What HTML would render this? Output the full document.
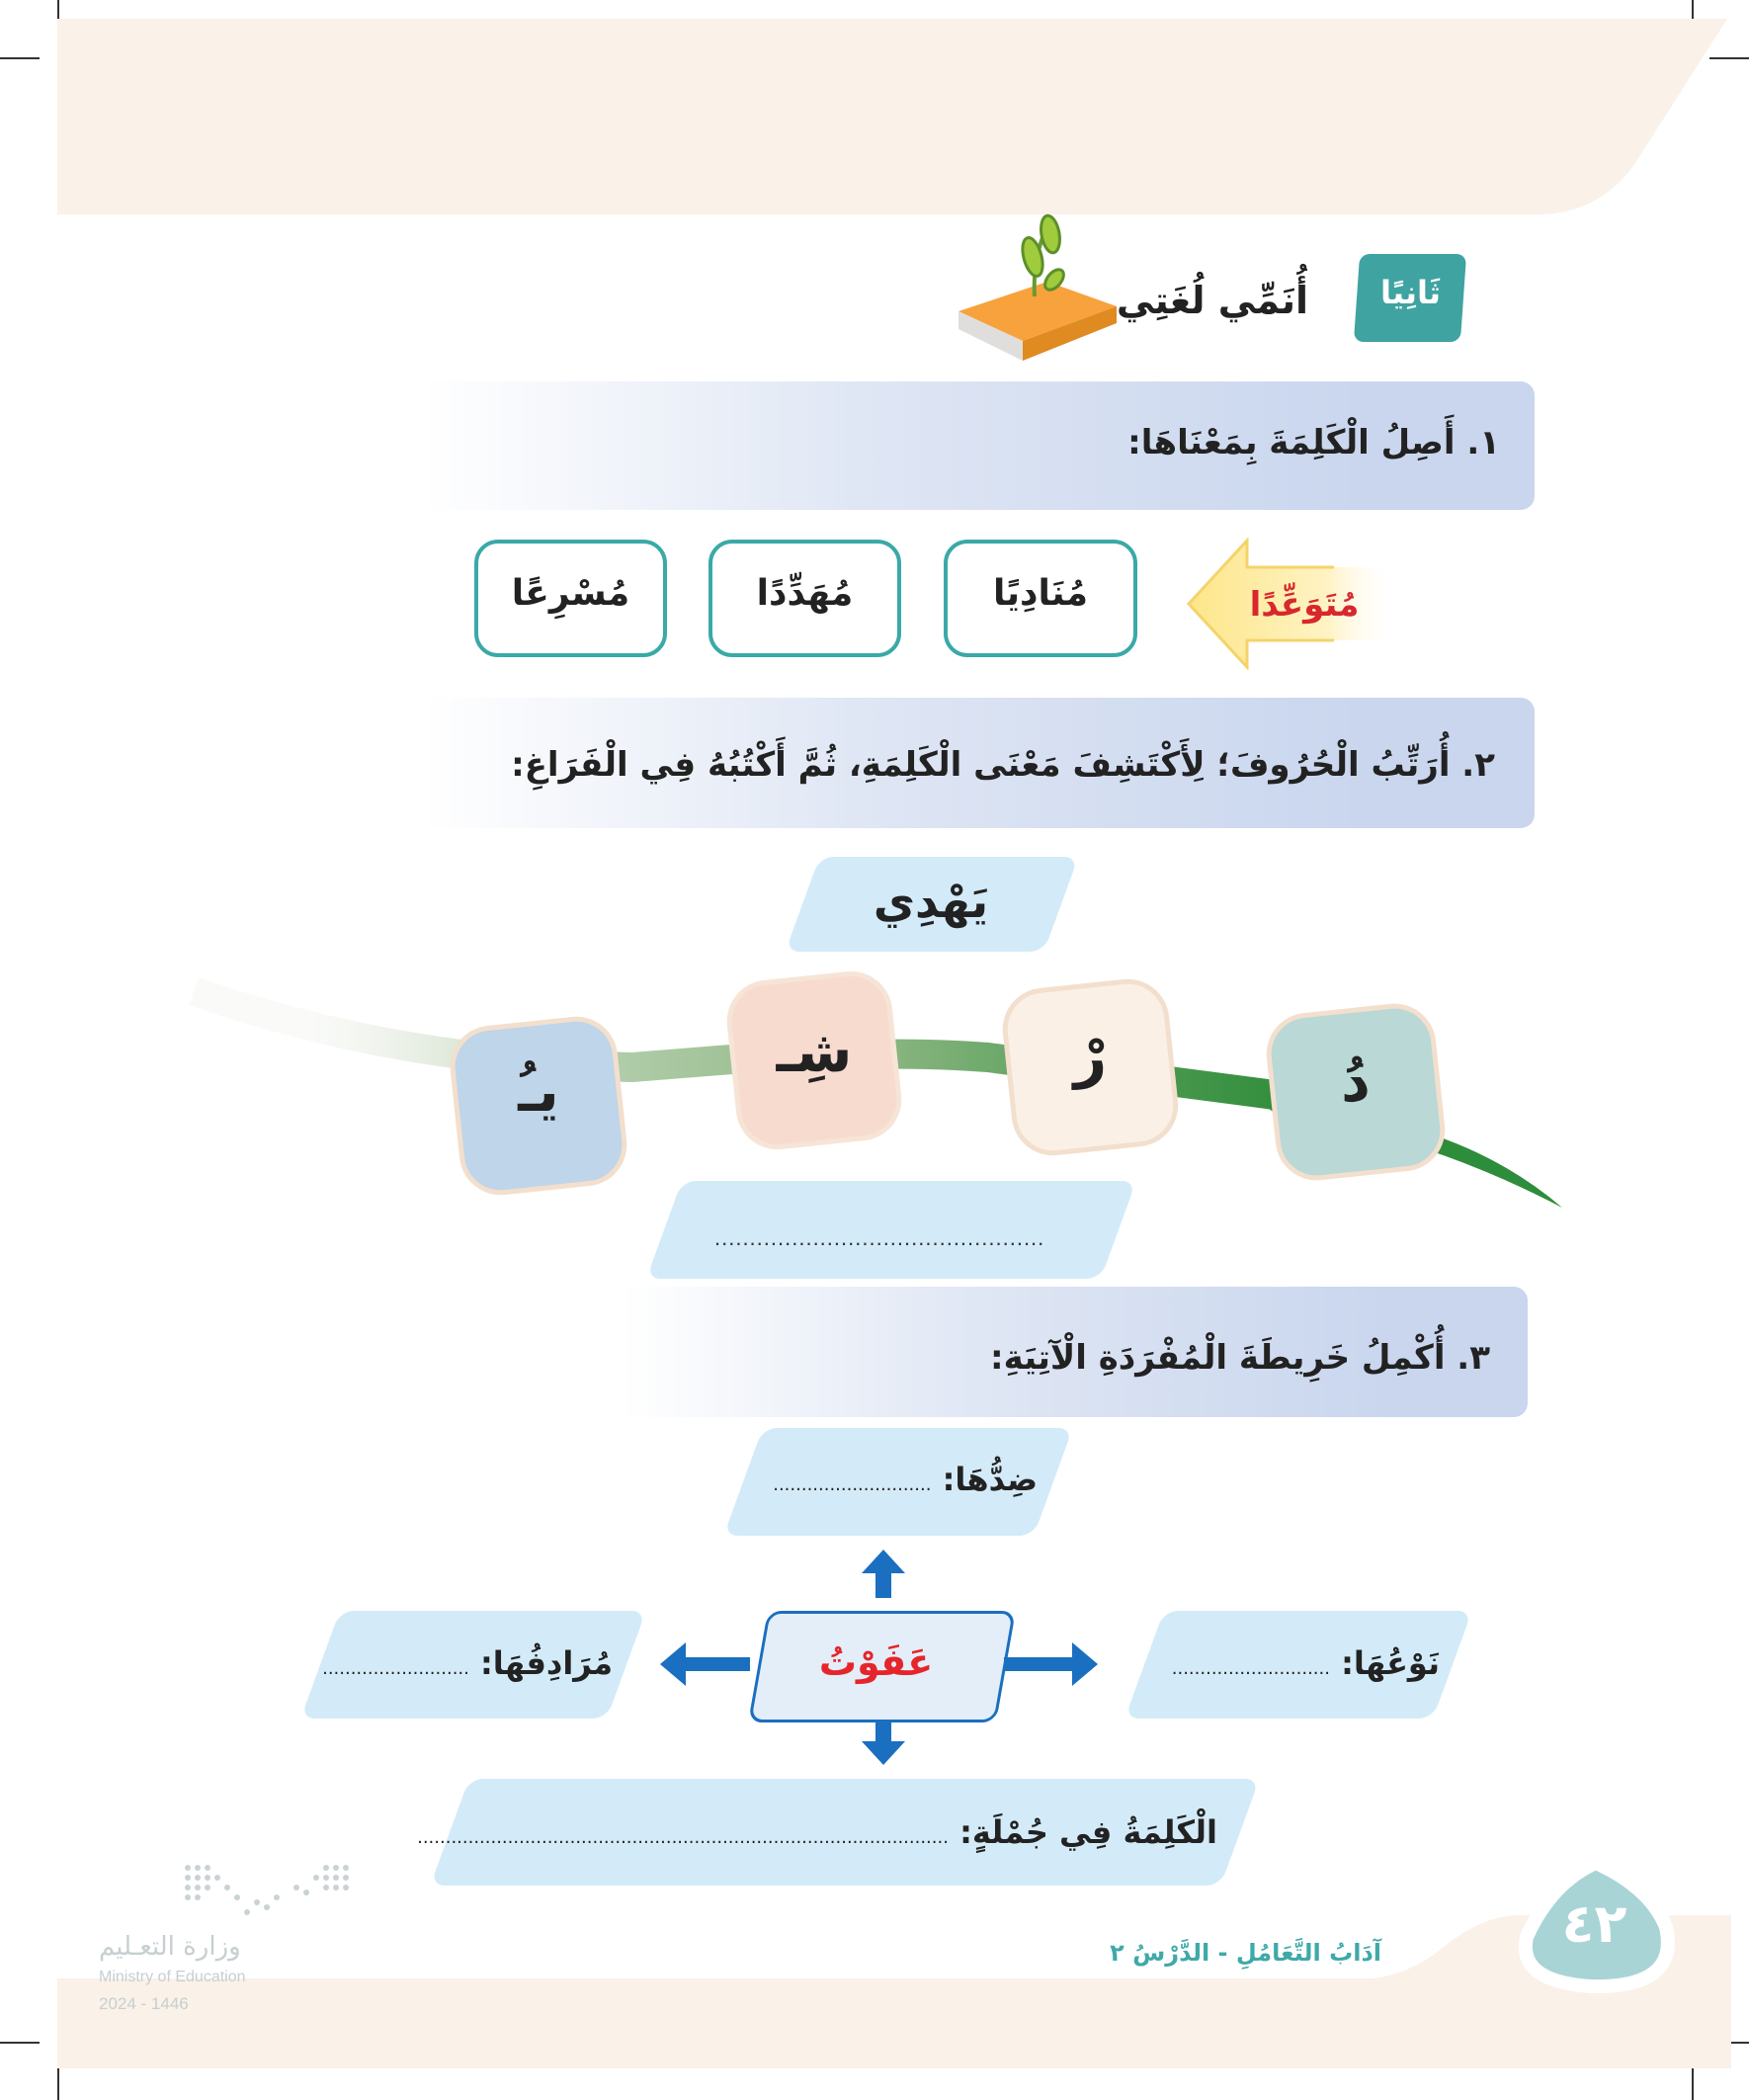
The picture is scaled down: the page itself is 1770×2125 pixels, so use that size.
<!DOCTYPE html>
<html><head><meta charset="utf-8">
<style>
body{margin:0;width:1770px;height:2125px;position:relative;background:#fff;overflow:hidden;font-family:"Liberation Sans","Noto Sans CJK SC",sans-serif;}
.a{position:absolute;}
.t{position:absolute;font-family:"DejaVu Sans","Liberation Sans",sans-serif;font-weight:bold;direction:rtl;white-space:nowrap;color:#222;}
.bar{position:absolute;background:linear-gradient(to right,rgba(201,214,238,0),#dfe6f4 40%,#c9d6ee 85%);border-radius:0 14px 14px 0;}
.box{position:absolute;border:4px solid #3aa9a8;border-radius:24px;background:#fff;box-sizing:border-box;}
.para{position:absolute;background:#d3ebf8;transform:skewX(-20deg);border-radius:14px;}
.tile{position:absolute;border:5px solid #f3dfcd;border-radius:42px;box-sizing:border-box;transform:rotate(-6deg);}
.line{position:absolute;background:#333;}
</style></head><body>
<!-- crop marks -->
<div class="line" style="left:58px;top:0;width:2px;height:61px"></div>
<div class="line" style="left:0;top:58px;width:40px;height:2px"></div>
<div class="line" style="left:1712px;top:0;width:2px;height:61px"></div>
<div class="line" style="left:1730px;top:58px;width:40px;height:2px"></div>
<div class="line" style="left:58px;top:2085px;width:2px;height:40px"></div>
<div class="line" style="left:0;top:2066px;width:40px;height:2px"></div>
<div class="line" style="left:1712px;top:2083px;width:2px;height:42px"></div>
<div class="line" style="left:1728px;top:2066px;width:42px;height:2px"></div>

<!-- top band -->
<svg class="a" style="left:0;top:0" width="1770" height="230"><path d="M58,19 L1748,19 L1655,165 Q1620,215 1560,217 L58,217 Z" fill="#faf1e8"/></svg>

<!-- heading -->
<div class="a" style="left:1373px;top:257px;width:108px;height:89px;background:#3fa3a1;border-radius:10px;transform:skewX(-4deg)"></div>
<div class="t" style="left:1380px;top:277px;width:95px;text-align:center;color:#fff;font-size:32px">ثَانِيًا</div>
<div class="t" style="right:446px;top:282px;font-size:38px">أُنَمِّي لُغَتِي</div>
<!-- book -->
<svg class="a" style="left:965px;top:215px" width="170" height="155">
<polygon points="5,100 95,70 165,95 70,130" fill="#f7a23c"/>
<polygon points="5,100 70,130 70,150 5,118" fill="#e0dedd"/>
<polygon points="70,130 165,95 165,112 70,150" fill="#e08a22"/>
<path d="M82,85 Q80,50 92,20" stroke="#6a9a32" stroke-width="4" fill="none"/>
<ellipse cx="80" cy="45" rx="9" ry="20" fill="#9fcb3c" stroke="#5d8f2a" stroke-width="3" transform="rotate(-15 80 45)"/>
<ellipse cx="98" cy="22" rx="9" ry="19" fill="#9fcb3c" stroke="#5d8f2a" stroke-width="3" transform="rotate(-10 98 22)"/>
<ellipse cx="102" cy="68" rx="7" ry="12" fill="#9fcb3c" stroke="#5d8f2a" stroke-width="3" transform="rotate(40 102 68)"/>
</svg>

<!-- bar 1 -->
<div class="bar" style="left:427px;top:386px;width:1126px;height:130px"></div>
<div class="t" style="right:252px;top:428px;font-size:34px">١. أَصِلُ الْكَلِمَةَ بِمَعْنَاهَا:</div>

<!-- word boxes -->
<div class="box" style="left:480px;top:546px;width:195px;height:119px"></div>
<div class="t" style="left:480px;top:580px;width:195px;text-align:center;font-size:36px">مُسْرِعًا</div>
<div class="box" style="left:717px;top:546px;width:195px;height:119px"></div>
<div class="t" style="left:717px;top:580px;width:195px;text-align:center;font-size:36px">مُهَدِّدًا</div>
<div class="box" style="left:955px;top:546px;width:196px;height:119px"></div>
<div class="t" style="left:955px;top:580px;width:196px;text-align:center;font-size:36px">مُنَادِيًا</div>
<svg class="a" style="left:1200px;top:544px" width="210" height="134">
<defs><linearGradient id="yg" x1="0" x2="1"><stop offset="0" stop-color="#fde68a"/><stop offset="0.7" stop-color="#fff3c4"/><stop offset="1" stop-color="#fffaf0" stop-opacity="0"/></linearGradient></defs>
<polygon points="3,67 62,3 62,30 205,30 205,104 62,104 62,131" fill="url(#yg)"/>
<path d="M150,30 L62,30 L62,3 L3,67 L62,131 L62,104 L150,104" fill="none" stroke="#f4d36a" stroke-width="3"/>
</svg>
<div class="t" style="left:1250px;top:592px;width:140px;text-align:center;font-size:34px;color:#d8272d">مُتَوَعِّدًا</div>

<!-- bar 2 -->
<div class="bar" style="left:427px;top:706px;width:1126px;height:132px"></div>
<div class="t" style="right:257px;top:754px;font-size:34px">٢. أُرَتِّبُ الْحُرُوفَ؛ لِأَكْتَشِفَ مَعْنَى الْكَلِمَةِ، ثُمَّ أَكْتُبُهُ فِي الْفَرَاغِ:</div>

<!-- يهدي -->
<div class="para" style="left:812px;top:867px;width:262px;height:96px"></div>
<div class="t" style="left:797px;top:885px;width:290px;text-align:center;font-size:46px">يَهْدِي</div>

<!-- stem -->
<svg class="a" style="left:0;top:950px" width="1770" height="300">
<defs><linearGradient id="sg" x1="0" x2="1"><stop offset="0.1" stop-color="#e8ece2" stop-opacity="0.2"/><stop offset="0.35" stop-color="#b5cfae"/><stop offset="0.6" stop-color="#8fb885"/><stop offset="0.85" stop-color="#4c9a50"/><stop offset="1" stop-color="#2f8c3a"/></linearGradient></defs>
<path d="M196,53 Q400,125 640,130 L740,122 Q900,112 1000,120 L1290,158 L1320,178" stroke="url(#sg)" stroke-width="30" fill="none"/>
<path d="M1440,195 Q1520,220 1581,272 Q1510,235 1440,212 Z" fill="#2e8d3a"/>
</svg>

<!-- tiles -->
<div class="tile" style="left:460px;top:1033px;width:170px;height:172px;background:#bfd5e9"></div>
<div class="t" style="left:460px;top:1070px;width:170px;text-align:center;font-size:58px">يـُ</div>
<div class="tile" style="left:740px;top:987px;width:168px;height:172px;background:#f8dbcf;border-color:#f6e5d6"></div>
<div class="t" style="left:740px;top:1030px;width:168px;text-align:center;font-size:58px">شِـ</div>
<div class="tile" style="left:1019px;top:995px;width:169px;height:170px;background:#faf0e6"></div>
<div class="t" style="left:1019px;top:1035px;width:169px;text-align:center;font-size:58px">رْ</div>
<div class="tile" style="left:1286px;top:1020px;width:172px;height:170px;background:#b9d8d6"></div>
<div class="t" style="left:1286px;top:1060px;width:172px;text-align:center;font-size:58px">دُ</div>

<!-- answer -->
<div class="para" style="left:672px;top:1195px;width:460px;height:99px"></div>
<div class="a" style="left:723px;top:1240px;width:335px;font-size:22px;color:#333;letter-spacing:1px;overflow:hidden;white-space:nowrap">.....................................................</div>

<!-- bar 3 -->
<div class="bar" style="left:630px;top:1302px;width:916px;height:132px"></div>
<div class="t" style="right:262px;top:1354px;font-size:34px">٣. أُكْمِلُ خَرِيطَةَ الْمُفْرَدَةِ الْآتِيَةِ:</div>

<!-- map -->
<div class="para" style="left:752px;top:1445px;width:314px;height:109px"></div>
<div class="t" style="right:720px;top:1478px;font-size:32px">ضِدُّهَا: <span style="font-weight:normal;font-size:18px">............................</span></div>

<div class="para" style="left:324px;top:1630px;width:310px;height:109px"></div>
<div class="t" style="right:1150px;top:1664px;font-size:32px">مُرَادِفُهَا: <span style="font-weight:normal;font-size:18px">..........................</span></div>

<div class="para" style="left:1158px;top:1630px;width:312px;height:109px"></div>
<div class="t" style="right:313px;top:1664px;font-size:32px">نَوْعُهَا: <span style="font-weight:normal;font-size:18px">............................</span></div>

<div class="para" style="left:455px;top:1800px;width:800px;height:108px"></div>
<div class="t" style="right:538px;top:1835px;font-size:32px">الْكَلِمَةُ فِي جُمْلَةٍ: <span style="font-weight:normal;font-size:18px">..............................................................................................</span></div>

<div class="a" style="left:767px;top:1630px;width:245px;height:107px;background:#e3eef8;border:3px solid #1a6fc0;border-radius:14px;transform:skewX(-10deg)"></div>
<div class="t" style="left:747px;top:1660px;width:279px;text-align:center;font-size:38px;color:#e5252a">عَفَوْتُ</div>

<svg class="a" style="left:0;top:0" width="1770" height="2125">
<g fill="#1a6fc0">
<polygon points="894,1568 872,1592 886,1592 886,1617 902,1617 902,1592 916,1592"/>
<polygon points="894,1786 872,1762 886,1762 886,1741 902,1741 902,1762 916,1762"/>
<polygon points="668,1684 694,1662 694,1677 759,1677 759,1691 694,1691 694,1706"/>
<polygon points="1111,1684 1085,1662 1085,1677 1016,1677 1016,1691 1085,1691 1085,1706"/>
</g>
<!-- footer -->
<rect x="58" y="2002" width="1694" height="91" fill="#faf1e8"/>
<path d="M1380,2003 Q1420,2001 1455,1975 Q1495,1940 1535,1938 L1752,1938 L1752,2010 L1380,2010 Z" fill="#faf1e8"/>
<path d="M1615,1885 Q1570,1905 1545,1960 Q1535,2005 1610,2010 Q1700,2012 1686,1950 Q1670,1910 1615,1885 Z" fill="#a8d4d6" stroke="#fff" stroke-width="14"/>
<g fill="#c9d3d6">
<circle cx="190" cy="1890" r="3"/><circle cx="200" cy="1890" r="3"/><circle cx="210" cy="1890" r="3"/><circle cx="190" cy="1900" r="3"/><circle cx="200" cy="1900" r="3"/><circle cx="210" cy="1900" r="3"/><circle cx="220" cy="1900" r="3"/><circle cx="190" cy="1910" r="3"/><circle cx="200" cy="1910" r="3"/><circle cx="210" cy="1910" r="3"/><circle cx="230" cy="1910" r="3"/><circle cx="190" cy="1920" r="3"/><circle cx="200" cy="1920" r="3"/><circle cx="240" cy="1920" r="3"/><circle cx="260" cy="1925" r="3"/><circle cx="280" cy="1920" r="3"/><circle cx="300" cy="1910" r="3"/><circle cx="320" cy="1900" r="3"/><circle cx="330" cy="1890" r="3"/><circle cx="340" cy="1890" r="3"/><circle cx="350" cy="1890" r="3"/><circle cx="330" cy="1900" r="3"/><circle cx="340" cy="1900" r="3"/><circle cx="350" cy="1900" r="3"/><circle cx="330" cy="1910" r="3"/><circle cx="340" cy="1910" r="3"/><circle cx="350" cy="1910" r="3"/><circle cx="310" cy="1915" r="3"/><circle cx="270" cy="1930" r="3"/><circle cx="250" cy="1935" r="3"/>
</g>
</svg>
<div class="t" style="left:1542px;top:1915px;width:143px;text-align:center;color:#fff;font-size:54px">٤٢</div>
<div class="t" style="right:372px;top:1962px;font-size:24px;color:#3fa9a8">آدَابُ التَّعَامُلِ - الدَّرْسُ ٢</div>
<div class="t" style="left:100px;top:1955px;width:170px;text-align:left;direction:ltr;font-size:26px;font-weight:normal;color:#c6cfd1">وزارة التعـليم</div>
<div class="a" style="left:100px;top:1992px;font-size:16px;color:#c6cfd1">Ministry of Education</div>
<div class="a" style="left:100px;top:2018px;font-size:17px;color:#c6cfd1">2024 - 1446</div>
</body></html>
